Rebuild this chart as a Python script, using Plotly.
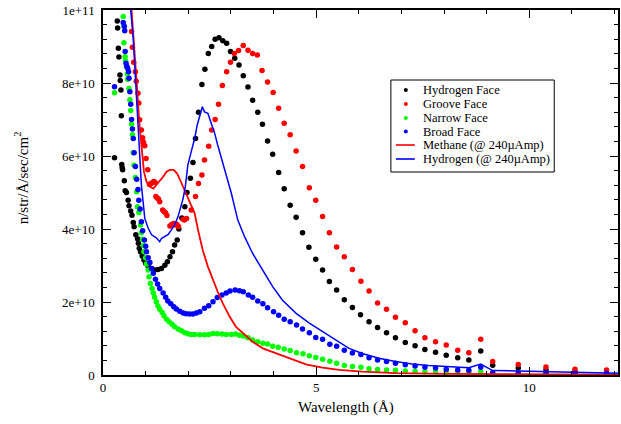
import numpy as np
import plotly.graph_objects as go

SCALE = 1e10  # values below are in units of 1e10

# Hydrogen Face (black dots)
h_face_x = [0.27, 0.335, 0.343, 0.36, 0.374, 0.397, 0.405, 0.42, 0.43, 0.44, 0.45, 0.46, 0.50, 0.52, 0.55,
            0.59, 0.61, 0.65, 0.68, 0.71, 0.73, 0.77, 0.81, 0.83, 0.85, 0.88, 0.92, 0.96, 1.00, 1.06,
            1.14, 1.21, 1.29, 1.37, 1.45, 1.51, 1.57, 1.63, 1.68, 1.74, 1.78, 1.85, 1.92, 1.97, 2.05,
            2.11, 2.17, 2.24, 2.32, 2.39, 2.47, 2.55, 2.63, 2.72, 2.81, 2.90, 2.99, 3.09, 3.19, 3.29,
            3.40, 3.51, 3.63, 3.74, 3.86, 3.98, 4.12, 4.25, 4.39, 4.53, 4.68, 4.83, 4.99, 5.15, 5.31,
            5.48, 5.66, 5.85, 6.04, 6.24, 6.44, 6.65, 6.86, 7.09, 7.32, 7.55, 7.80, 8.05, 8.32, 8.58,
            8.86, 9.14, 9.74, 10.39, 11.07, 11.81]
h_face_y = [5.95, 9.70, 9.51, 8.95, 8.71, 8.22, 8.07, 7.81, 7.10, 5.77, 5.68, 5.62, 5.32, 5.05, 5.00,
            4.79, 4.64, 4.49, 4.38, 4.18, 4.06, 3.84, 3.73, 3.61, 3.47, 3.38, 3.26, 3.15, 3.06, 2.97,
            2.92, 2.88, 2.89, 2.92, 3.01, 3.10, 3.24, 3.38, 3.56, 3.70, 4.00, 4.30, 4.61, 5.00, 5.39,
            5.82, 6.48, 7.20, 7.96, 8.38, 8.81, 9.00, 9.20, 9.24, 9.16, 9.09, 8.86, 8.68, 8.49, 8.20,
            7.89, 7.53, 7.20, 6.87, 6.41, 6.05, 5.55, 5.10, 4.65, 4.32, 3.90, 3.50, 3.17, 2.88, 2.56,
            2.33, 2.06, 1.85, 1.65, 1.46, 1.30, 1.16, 1.02, 0.89, 0.80, 0.70, 0.62, 0.54, 0.47, 0.41,
            0.66, 0.27, 0.19, 0.14, 0.09, 0.05]

# Groove Face (red dots)
groove_x = [0.67, 0.69, 0.72, 0.76, 0.78, 0.82, 0.84, 0.86, 0.90, 0.93, 0.95, 0.98, 1.01, 1.05, 1.09,
            1.12, 1.16, 1.19, 1.22, 1.24, 1.27, 1.30, 1.33, 1.40, 1.43, 1.47, 1.50, 1.57, 1.61, 1.66,
            1.70, 1.73, 1.77, 1.88, 1.91, 1.96, 2.07, 2.17, 2.24, 2.32, 2.38, 2.48, 2.55, 2.63, 2.71,
            2.80, 2.90, 2.99, 3.08, 3.18, 3.29, 3.40, 3.51, 3.62, 3.73, 3.86, 3.99, 4.12, 4.25, 4.39,
            4.53, 4.68, 4.84, 4.99, 5.15, 5.31, 5.48, 5.66, 5.85, 6.05, 6.24, 6.44, 6.65, 6.86, 7.09,
            7.32, 7.55, 7.80, 8.05, 8.32, 8.58, 8.86, 9.14, 9.74, 10.39, 11.07, 11.81]
groove_y = [9.41, 8.98, 8.57, 8.31, 8.05, 7.72, 7.45, 6.99, 6.71, 6.50, 6.38, 6.28, 5.93, 5.62, 5.22,
            5.25, 5.27, 5.30, 5.28, 4.89, 4.85, 4.82, 4.75, 4.52, 4.48, 4.44, 4.37, 4.08, 4.12, 4.15,
            4.11, 4.13, 4.07, 4.27, 4.25, 4.29, 4.52, 4.89, 5.25, 5.48, 5.89, 6.27, 6.71, 7.00, 7.42,
            7.93, 8.31, 8.57, 8.81, 8.89, 9.03, 8.90, 8.81, 8.77, 8.34, 8.03, 7.74, 7.31, 6.90, 6.58,
            6.14, 5.71, 5.13, 4.79, 4.34, 3.90, 3.51, 3.24, 2.89, 2.57, 2.30, 1.97, 1.80, 1.58, 1.43,
            1.21, 1.02, 0.91, 0.82, 0.68, 0.61, 0.98, 0.37, 0.29, 0.22, 0.16, 0.14]

# Narrow Face (green dots)
narrow_x = [0.27, 0.475, 0.49, 0.49, 0.52, 0.53, 0.55, 0.57, 0.58, 0.61, 0.63, 0.65, 0.67, 0.69, 0.71,
            0.73, 0.76, 0.79, 0.81, 0.84, 0.88, 0.90, 0.93, 0.95, 0.96, 1.00, 1.02, 1.06, 1.08, 1.11,
            1.15, 1.18, 1.21, 1.25, 1.29, 1.33, 1.39, 1.43, 1.49, 1.55, 1.62, 1.68, 1.76, 1.84, 1.92,
            1.99, 2.07, 2.15, 2.27, 2.38, 2.48, 2.58, 2.68, 2.79, 2.89, 3.01, 3.11, 3.20, 3.29, 3.40,
            3.51, 3.63, 3.75, 3.86, 3.98, 4.11, 4.25, 4.39, 4.54, 4.69, 4.84, 4.99, 5.15, 5.32, 5.48,
            5.66, 5.85, 6.05, 6.24, 6.44, 6.65, 6.86, 7.09, 7.32, 7.55, 7.80, 8.05, 8.32, 8.58, 8.86,
            9.14, 9.74, 10.39]
narrow_y = [7.73, 9.82, 9.57, 9.10, 8.72, 8.60, 8.45, 8.25, 8.10, 7.85, 7.54, 7.25, 6.87, 6.58, 6.09,
            5.75, 5.41, 5.02, 4.61, 4.45, 4.11, 3.90, 3.72, 3.55, 3.38, 3.21, 3.04, 2.88, 2.69, 2.51,
            2.37, 2.25, 2.13, 2.01, 1.89, 1.80, 1.71, 1.62, 1.53, 1.46, 1.39, 1.32, 1.26, 1.21, 1.16,
            1.13, 1.11, 1.11, 1.10, 1.10, 1.11, 1.14, 1.13, 1.12, 1.11, 1.11, 1.12, 1.09, 1.07, 1.02,
            0.96, 0.91, 0.87, 0.85, 0.79, 0.76, 0.71, 0.67, 0.61, 0.58, 0.53, 0.48, 0.43, 0.38, 0.32,
            0.26, 0.23, 0.21, 0.17, 0.15, 0.14, 0.13, 0.11, 0.10, 0.09, 0.09, 0.08, 0.08, 0.08, 0.09,
            0.05, 0.04, 0.04]

# Broad Face (blue dots)
broad_x = [0.27, 0.475, 0.50, 0.51, 0.52, 0.54, 0.56, 0.58, 0.60, 0.61, 0.63, 0.65, 0.67, 0.69, 0.71,
           0.73, 0.76, 0.79, 0.82, 0.84, 0.87, 0.90, 0.93, 0.97, 1.00, 1.02, 1.06, 1.10, 1.14, 1.18,
           1.23, 1.28, 1.33, 1.41, 1.47, 1.52, 1.59, 1.66, 1.72, 1.80, 1.88, 1.95, 2.03, 2.11, 2.19,
           2.27, 2.38, 2.48, 2.58, 2.68, 2.79, 2.89, 2.98, 3.10, 3.20, 3.29, 3.41, 3.51, 3.63, 3.75,
           3.86, 4.00, 4.12, 4.25, 4.39, 4.54, 4.68, 4.84, 4.99, 5.15, 5.32, 5.48, 5.66, 5.85, 6.05,
           6.24, 6.44, 6.65, 6.86, 7.09, 7.32, 7.55, 7.80, 8.05, 8.32, 8.58, 8.86, 9.14, 9.74, 10.39,
           11.07, 11.81]
broad_y = [7.90, 9.66, 9.55, 9.43, 8.86, 8.54, 8.45, 8.40, 8.31, 8.13, 7.76, 7.42, 7.00, 6.74, 6.48,
           6.09, 5.71, 5.36, 5.08, 4.79, 4.55, 4.20, 3.95, 3.70, 3.53, 3.38, 3.21, 3.08, 2.92, 2.79,
           2.62, 2.49, 2.37, 2.25, 2.13, 2.03, 1.95, 1.87, 1.81, 1.75, 1.70, 1.68, 1.67, 1.67, 1.70,
           1.73, 1.83, 1.90, 2.01, 2.12, 2.19, 2.25, 2.30, 2.33, 2.31, 2.28, 2.19, 2.13, 2.03, 1.95,
           1.84, 1.73, 1.64, 1.53, 1.46, 1.37, 1.26, 1.16, 1.03, 0.98, 0.84, 0.79, 0.68, 0.60, 0.56,
           0.47, 0.41, 0.37, 0.32, 0.28, 0.25, 0.21, 0.19, 0.16, 0.14, 0.13, 0.21, 0.06, 0.05, 0.05,
           0.04, 0.04]

# Methane (@ 240uAmp) red line
methane_x = [0.62, 0.67, 0.75, 0.80, 0.85, 0.90, 0.96, 1.02, 1.10, 1.18, 1.25, 1.33, 1.41, 1.49, 1.57,
             1.66, 1.74, 1.80, 1.88, 1.95, 2.03, 2.15, 2.23, 2.34, 2.46, 2.58, 2.69, 2.81, 2.97, 3.12,
             3.32, 3.51, 3.75, 4.06, 4.37, 4.76, 5.15, 5.54, 6.08, 6.86, 8.00, 9.00, 10.00, 12.10]
methane_y = [10.80, 10.05, 8.77, 7.85, 6.94, 6.21, 5.57, 5.30, 5.16, 5.11, 5.21, 5.30, 5.43, 5.57, 5.62,
             5.62, 5.52, 5.37, 5.16, 5.00, 4.79, 4.43, 3.97, 3.42, 2.97, 2.60, 2.28, 1.96, 1.60, 1.32,
             1.10, 0.91, 0.73, 0.59, 0.46, 0.29, 0.20, 0.14, 0.09, 0.05, 0.03, 0.02, 0.02, 0.01]

# Hydrogen (@ 240uAmp) blue line
hydrogen_x = [0.62, 0.65, 0.71, 0.75, 0.79, 0.83, 0.86, 0.90, 0.94, 0.98, 1.06, 1.14, 1.25, 1.33, 1.37,
              1.45, 1.53, 1.60, 1.68, 1.76, 1.81, 1.88, 1.93, 1.99, 2.07, 2.15, 2.21, 2.27, 2.33, 2.38,
              2.46, 2.54, 2.62, 2.69, 2.77, 2.85, 2.93, 3.01, 3.16, 3.32, 3.51, 3.75, 3.98, 4.21, 4.53,
              4.84, 5.15, 5.30, 5.54, 5.77, 6.08, 6.47, 6.86, 7.25, 7.64, 8.03, 8.58, 8.86, 9.14, 9.74,
              10.39, 11.07, 12.10]
hydrogen_y = [10.80, 10.00, 9.22, 8.31, 7.40, 6.48, 5.75, 5.21, 4.75, 4.29, 4.02, 3.84, 3.76, 3.65, 3.74,
              3.79, 3.85, 3.97, 4.11, 4.34, 4.57, 4.84, 5.16, 5.75, 6.12, 6.48, 6.85, 7.12, 7.35, 7.21,
              7.17, 6.89, 6.62, 6.30, 5.98, 5.66, 5.34, 4.98, 4.25, 3.79, 3.33, 2.88, 2.42, 2.05, 1.69,
              1.42, 1.19, 1.07, 0.90, 0.73, 0.59, 0.46, 0.37, 0.30, 0.26, 0.23, 0.20, 0.30, 0.12, 0.11,
              0.09, 0.07, 0.05]

y_tickvals = [0, 2e10, 4e10, 6e10, 8e10, 1e11]
y_ticktext = ["0", "2e+10", "4e+10", "6e+10", "8e+10", "1e+11"]
x_tickvals = [0, 5, 10]
x_ticktext = ["0", "5", "10"]

legend_names = ["Hydrogen Face", "Groove Face", "Narrow Face", "Broad Face",
                "Methane (@ 240\u00b5Amp)", "Hydrogen (@ 240\u00b5Amp)"]
legend_colors = ["#000000", "#ff0000", "#00ff00", "#0000ff", "#ff0000", "#0000ff"]
legend_kinds = ["dot", "dot", "dot", "dot", "line", "line"]

FONT = "Liberation Serif, Times New Roman, serif"

W, H = 621, 424
ML, MR, MT, MB = 103, 1, 10, 49
PW, PH = W - ML - MR, H - MT - MB


def fx(px):
    return (px - ML) / PW


def fy(py):
    return 1 - (py - MT) / PH


fig = go.Figure()

dot_series = [(h_face_x, h_face_y), (groove_x, groove_y), (narrow_x, narrow_y), (broad_x, broad_y)]
for (xs, ys), name, col in zip(dot_series, legend_names[:4], legend_colors[:4]):
    fig.add_trace(go.Scatter(x=xs, y=np.array(ys) * SCALE, mode="markers", name=name,
                             marker=dict(color=col, size=5.5, line=dict(width=0)),
                             showlegend=False))

fig.add_trace(go.Scatter(x=methane_x, y=np.array(methane_y) * SCALE, mode="lines", name=legend_names[4],
                         line=dict(color="#ff0000", width=1.8), showlegend=False))
fig.add_trace(go.Scatter(x=hydrogen_x, y=np.array(hydrogen_y) * SCALE, mode="lines", name=legend_names[5],
                         line=dict(color="#0000ff", width=1.5), showlegend=False))

axis_common = dict(showgrid=False, zeroline=False, showline=True, linecolor="black", linewidth=1.5,
                   mirror="ticks", ticks="inside", ticklen=8, tickwidth=1, tickcolor="black",
                   tickfont=dict(family=FONT, size=13, color="black"))

fig.update_xaxes(range=[0, PW / 42.8], tickmode="array", tickvals=x_tickvals, ticktext=x_ticktext,
                 minor=dict(tickmode="linear", tick0=0, dtick=1, ticks="inside", ticklen=4,
                            tickcolor="black", tickwidth=1),
                 **axis_common)
fig.update_yaxes(range=[0, 1e11], tickmode="array", tickvals=y_tickvals, ticktext=y_ticktext,
                 minor=dict(tickmode="linear", tick0=0, dtick=4e9, ticks="inside", ticklen=4,
                            tickcolor="black", tickwidth=1),
                 ticklabelstandoff=4, **axis_common)

shapes = []
annotations = []
# legend box
shapes.append(dict(type="rect", xref="paper", yref="paper", x0=fx(392), x1=fx(556), y0=fy(172), y1=fy(80),
                   line=dict(color="black", width=1), fillcolor="white", layer="above"))
rows = [90, 104, 118, 131.5, 145, 159]
for name, col, kind, ry in zip(legend_names, legend_colors, legend_kinds, rows):
    if kind == "dot":
        shapes.append(dict(type="circle", xref="paper", yref="paper",
                           x0=fx(405), x1=fx(409), y0=fy(ry + 2), y1=fy(ry - 2),
                           fillcolor=col, line=dict(color=col, width=0)))
    else:
        shapes.append(dict(type="line", xref="paper", yref="paper",
                           x0=fx(397), x1=fx(416), y0=fy(ry), y1=fy(ry),
                           line=dict(color=col, width=1.6)))
    annotations.append(dict(text=name, xref="paper", yref="paper", x=fx(422), y=fy(ry),
                            xanchor="left", yanchor="middle", showarrow=False,
                            font=dict(family=FONT, size=12.5, color="black")))

annotations.append(dict(text="Wavelength (\u00c5)", xref="paper", yref="paper", x=fx(347), y=fy(407),
                        xanchor="center", yanchor="middle", showarrow=False,
                        font=dict(family=FONT, size=15, color="black")))
annotations.append(dict(text="n/str/\u00c5/sec/cm<sup>2</sup>", xref="paper", yref="paper", x=fx(21), y=fy(178),
                        xanchor="center", yanchor="middle", showarrow=False, textangle=-90,
                        font=dict(family=FONT, size=15, color="black")))

fig.update_layout(width=W, height=H, margin=dict(l=ML, r=MR, t=MT, b=MB),
                  paper_bgcolor="white", plot_bgcolor="white", showlegend=False,
                  hovermode=False, shapes=shapes, annotations=annotations)

fig.write_html("out.html", config={"displayModeBar": False},
               post_script="document.body.style.margin='0px';")
